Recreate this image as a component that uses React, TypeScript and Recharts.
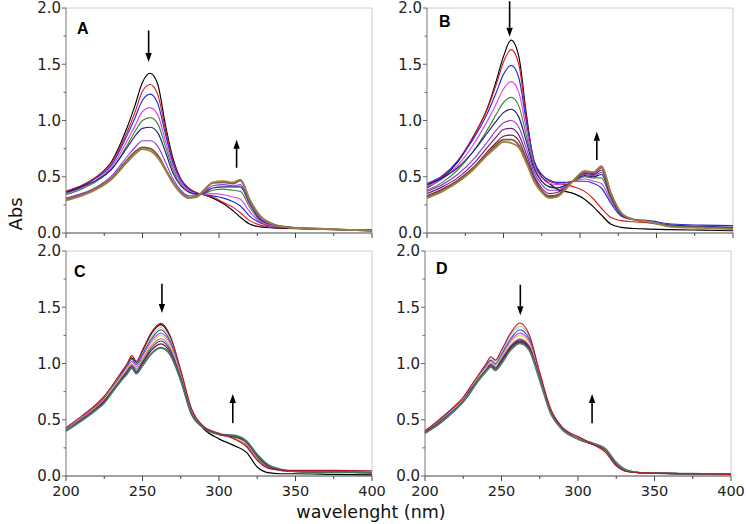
import React from "react";
import { LineChart, Line, XAxis, YAxis, ReferenceLine } from "recharts";

// wavelength grids (nm)
const WL_AB = [200, 210, 220, 230, 240, 245, 250, 255, 260, 265, 270, 275, 280, 285, 290, 296, 303, 309, 314, 320, 327, 335, 345, 360, 380, 400];
const WL_CD = [200, 210, 220, 225, 230, 235, 240, 243, 246, 250, 256, 262, 268, 275, 282, 290, 300, 310, 318, 325, 332, 340, 350, 375, 400];

const X_TICKS = [200, 225, 250, 275, 300, 325, 350, 375, 400];
const Y_TICKS = [0, 0.25, 0.5, 0.75, 1, 1.25, 1.5, 1.75, 2];

// panel A
const A_BLACK = [0.37, 0.42, 0.5, 0.64, 0.94, 1.13, 1.34, 1.42, 1.32, 0.96, 0.66, 0.48, 0.4, 0.36, 0.34, 0.31, 0.26, 0.2, 0.14, 0.08, 0.055, 0.045, 0.04, 0.035, 0.03, 0.02];
const A_RED = [0.37, 0.42, 0.5, 0.63, 0.9, 1.07, 1.26, 1.32, 1.23, 0.92, 0.64, 0.48, 0.4, 0.355, 0.34, 0.32, 0.27, 0.23, 0.18, 0.11, 0.07, 0.05, 0.045, 0.035, 0.03, 0.02];
const A_BLUE = [0.36, 0.41, 0.49, 0.61, 0.87, 1.02, 1.18, 1.235, 1.15, 0.88, 0.62, 0.47, 0.39, 0.355, 0.34, 0.33, 0.31, 0.28, 0.24, 0.15, 0.09, 0.06, 0.05, 0.04, 0.03, 0.025];
const A_MAGENTA = [0.35, 0.4, 0.47, 0.59, 0.82, 0.95, 1.08, 1.115, 1.05, 0.82, 0.59, 0.45, 0.38, 0.35, 0.345, 0.35, 0.34, 0.32, 0.3, 0.19, 0.1, 0.065, 0.05, 0.04, 0.03, 0.025];
const A_GREEN = [0.34, 0.39, 0.46, 0.57, 0.78, 0.9, 1.0, 1.025, 0.97, 0.77, 0.56, 0.43, 0.37, 0.345, 0.35, 0.38, 0.39, 0.38, 0.37, 0.23, 0.11, 0.07, 0.05, 0.04, 0.03, 0.025];
const A_NAVY = [0.36, 0.41, 0.47, 0.57, 0.76, 0.86, 0.93, 0.94, 0.89, 0.72, 0.53, 0.42, 0.365, 0.345, 0.355, 0.4, 0.41, 0.41, 0.41, 0.26, 0.12, 0.075, 0.055, 0.04, 0.03, 0.025];
const A_VIOLET = [0.31, 0.35, 0.41, 0.51, 0.68, 0.76, 0.82, 0.82, 0.77, 0.63, 0.48, 0.38, 0.33, 0.33, 0.36, 0.42, 0.43, 0.42, 0.43, 0.27, 0.13, 0.075, 0.05, 0.04, 0.03, 0.025];
const A_BROWN = [0.3, 0.34, 0.4, 0.49, 0.65, 0.72, 0.76, 0.75, 0.69, 0.57, 0.45, 0.36, 0.315, 0.32, 0.37, 0.445, 0.45, 0.44, 0.465, 0.29, 0.145, 0.08, 0.05, 0.04, 0.03, 0.02];
const A_OLIVE = [0.29, 0.33, 0.39, 0.48, 0.63, 0.7, 0.745, 0.73, 0.67, 0.56, 0.44, 0.355, 0.31, 0.32, 0.38, 0.45, 0.46, 0.45, 0.475, 0.3, 0.15, 0.08, 0.05, 0.04, 0.03, 0.02];

// panel B
const B_BLACK = [0.4, 0.49, 0.63, 0.85, 1.13, 1.34, 1.57, 1.715, 1.57, 1.05, 0.62, 0.5, 0.44, 0.39, 0.37, 0.35, 0.3, 0.23, 0.16, 0.08, 0.05, 0.04, 0.035, 0.03, 0.025, 0.02];
const B_RED = [0.42, 0.5, 0.64, 0.85, 1.12, 1.31, 1.52, 1.63, 1.5, 1.02, 0.64, 0.52, 0.46, 0.44, 0.43, 0.41, 0.37, 0.3, 0.22, 0.14, 0.11, 0.1, 0.09, 0.06, 0.05, 0.045];
const B_BLUE = [0.44, 0.51, 0.64, 0.83, 1.08, 1.24, 1.41, 1.49, 1.38, 0.98, 0.64, 0.52, 0.47, 0.45, 0.45, 0.46, 0.46, 0.44, 0.4, 0.27, 0.15, 0.12, 0.11, 0.08, 0.07, 0.065];
const B_MAGENTA = [0.41, 0.48, 0.6, 0.78, 1.01, 1.14, 1.28, 1.345, 1.25, 0.92, 0.61, 0.49, 0.44, 0.43, 0.44, 0.46, 0.48, 0.46, 0.44, 0.29, 0.16, 0.12, 0.1, 0.06, 0.05, 0.045];
const B_GREEN = [0.38, 0.45, 0.56, 0.72, 0.93, 1.05, 1.16, 1.205, 1.13, 0.86, 0.59, 0.46, 0.41, 0.4, 0.42, 0.46, 0.5, 0.49, 0.49, 0.31, 0.16, 0.12, 0.1, 0.06, 0.05, 0.04];
const B_NAVY = [0.43, 0.49, 0.58, 0.72, 0.9, 0.99, 1.07, 1.1, 1.03, 0.81, 0.57, 0.46, 0.41, 0.4, 0.42, 0.47, 0.51, 0.5, 0.52, 0.33, 0.16, 0.12, 0.1, 0.07, 0.06, 0.05];
const B_VIOLET = [0.37, 0.43, 0.52, 0.65, 0.82, 0.91, 0.98, 1.0, 0.94, 0.75, 0.54, 0.43, 0.38, 0.38, 0.41, 0.47, 0.52, 0.51, 0.54, 0.34, 0.165, 0.12, 0.1, 0.06, 0.05, 0.04];
const B_PURPLE = [0.35, 0.41, 0.49, 0.61, 0.77, 0.85, 0.92, 0.93, 0.87, 0.7, 0.51, 0.4, 0.35, 0.36, 0.4, 0.47, 0.53, 0.52, 0.56, 0.35, 0.17, 0.12, 0.1, 0.06, 0.05, 0.04];
const B_MAROON = [0.33, 0.39, 0.47, 0.58, 0.73, 0.8, 0.86, 0.87, 0.82, 0.66, 0.49, 0.38, 0.33, 0.34, 0.39, 0.47, 0.54, 0.53, 0.58, 0.35, 0.17, 0.12, 0.1, 0.06, 0.05, 0.04];
const B_BROWN = [0.32, 0.38, 0.46, 0.57, 0.71, 0.78, 0.83, 0.83, 0.78, 0.64, 0.47, 0.37, 0.32, 0.33, 0.39, 0.47, 0.55, 0.54, 0.59, 0.36, 0.175, 0.12, 0.1, 0.06, 0.05, 0.04];
const B_OLIVE = [0.31, 0.37, 0.45, 0.56, 0.7, 0.76, 0.81, 0.8, 0.76, 0.62, 0.46, 0.36, 0.31, 0.32, 0.38, 0.47, 0.545, 0.54, 0.595, 0.36, 0.18, 0.12, 0.1, 0.055, 0.045, 0.035];

// panel C
const C_RED = [0.43, 0.53, 0.64, 0.71, 0.8, 0.9, 1.0, 1.07, 1.02, 1.12, 1.28, 1.357, 1.25, 0.94, 0.6, 0.44, 0.38, 0.33, 0.26, 0.14, 0.07, 0.055, 0.05, 0.05, 0.045];
const C_BLACK = [0.42, 0.52, 0.63, 0.7, 0.79, 0.89, 0.99, 1.05, 1.01, 1.11, 1.27, 1.345, 1.24, 0.93, 0.58, 0.42, 0.33, 0.27, 0.21, 0.08, 0.03, 0.02, 0.02, 0.015, 0.01];
const C_LGREEN = [0.42, 0.52, 0.63, 0.7, 0.79, 0.89, 0.99, 1.04, 1.0, 1.09, 1.24, 1.32, 1.22, 0.92, 0.58, 0.43, 0.37, 0.33, 0.27, 0.15, 0.07, 0.05, 0.04, 0.035, 0.03];
const C_BLUE = [0.42, 0.51, 0.62, 0.69, 0.78, 0.88, 0.98, 1.04, 0.99, 1.08, 1.22, 1.3, 1.2, 0.91, 0.58, 0.43, 0.37, 0.34, 0.28, 0.16, 0.08, 0.05, 0.04, 0.035, 0.03];
const C_MAGENTA = [0.41, 0.51, 0.62, 0.68, 0.77, 0.87, 0.96, 1.02, 0.97, 1.06, 1.2, 1.27, 1.18, 0.9, 0.57, 0.43, 0.37, 0.34, 0.28, 0.16, 0.08, 0.05, 0.04, 0.035, 0.03];
const C_YELLOW = [0.41, 0.5, 0.61, 0.68, 0.77, 0.86, 0.95, 1.0, 0.96, 1.04, 1.18, 1.25, 1.16, 0.89, 0.57, 0.43, 0.37, 0.34, 0.29, 0.17, 0.09, 0.055, 0.045, 0.04, 0.035];
const C_GRAY = [0.41, 0.5, 0.61, 0.67, 0.76, 0.85, 0.94, 0.99, 0.95, 1.03, 1.16, 1.22, 1.14, 0.88, 0.56, 0.43, 0.37, 0.35, 0.3, 0.17, 0.09, 0.055, 0.04, 0.035, 0.03];
const C_PURPLE = [0.4, 0.5, 0.6, 0.67, 0.75, 0.84, 0.93, 0.98, 0.93, 1.01, 1.14, 1.2, 1.12, 0.87, 0.56, 0.43, 0.37, 0.35, 0.3, 0.18, 0.09, 0.055, 0.04, 0.035, 0.03];
const C_MAROON = [0.4, 0.49, 0.6, 0.66, 0.75, 0.84, 0.92, 0.97, 0.92, 1.0, 1.12, 1.175, 1.1, 0.86, 0.55, 0.43, 0.37, 0.35, 0.3, 0.18, 0.09, 0.055, 0.04, 0.035, 0.03];
const C_TEAL = [0.4, 0.49, 0.59, 0.65, 0.74, 0.83, 0.91, 0.96, 0.91, 0.98, 1.09, 1.14, 1.08, 0.85, 0.55, 0.43, 0.37, 0.36, 0.31, 0.19, 0.1, 0.06, 0.04, 0.035, 0.03];

// panel D
const D_RED = [0.4, 0.51, 0.63, 0.7, 0.8, 0.9, 1.0, 1.06, 1.03, 1.12, 1.27, 1.36, 1.26, 0.92, 0.6, 0.43, 0.35, 0.28, 0.21, 0.09, 0.04, 0.03, 0.025, 0.02, 0.015];
const D_LGREEN = [0.4, 0.5, 0.62, 0.69, 0.79, 0.89, 0.99, 1.05, 1.02, 1.1, 1.25, 1.33, 1.24, 0.91, 0.6, 0.43, 0.35, 0.28, 0.22, 0.09, 0.04, 0.03, 0.025, 0.02, 0.015];
const D_BLUE = [0.4, 0.5, 0.62, 0.69, 0.79, 0.89, 0.98, 1.03, 1.0, 1.08, 1.22, 1.3, 1.22, 0.9, 0.59, 0.42, 0.34, 0.28, 0.22, 0.1, 0.04, 0.03, 0.025, 0.02, 0.015];
const D_MAGENTA = [0.39, 0.49, 0.61, 0.68, 0.78, 0.88, 0.97, 1.02, 0.99, 1.06, 1.2, 1.27, 1.2, 0.89, 0.59, 0.42, 0.34, 0.28, 0.22, 0.1, 0.04, 0.03, 0.025, 0.02, 0.015];
const D_YELLOW = [0.4, 0.49, 0.61, 0.68, 0.78, 0.88, 0.96, 1.01, 0.98, 1.05, 1.18, 1.25, 1.18, 0.88, 0.58, 0.42, 0.34, 0.28, 0.22, 0.1, 0.045, 0.03, 0.025, 0.02, 0.015];
const D_GRAY = [0.39, 0.49, 0.6, 0.67, 0.77, 0.87, 0.95, 1.0, 0.97, 1.04, 1.16, 1.22, 1.16, 0.87, 0.58, 0.42, 0.33, 0.28, 0.23, 0.1, 0.045, 0.03, 0.025, 0.02, 0.015];
const D_PURPLE = [0.39, 0.48, 0.6, 0.67, 0.77, 0.86, 0.94, 0.99, 0.96, 1.03, 1.15, 1.21, 1.15, 0.87, 0.57, 0.42, 0.33, 0.28, 0.23, 0.11, 0.045, 0.03, 0.025, 0.02, 0.015];
const D_MAROON = [0.38, 0.48, 0.59, 0.66, 0.76, 0.86, 0.94, 0.98, 0.95, 1.02, 1.14, 1.2, 1.14, 0.86, 0.57, 0.41, 0.33, 0.28, 0.23, 0.11, 0.045, 0.03, 0.025, 0.02, 0.015];
const D_BLACK = [0.38, 0.48, 0.59, 0.66, 0.76, 0.85, 0.93, 0.97, 0.94, 1.01, 1.13, 1.19, 1.13, 0.86, 0.57, 0.41, 0.33, 0.28, 0.23, 0.11, 0.05, 0.03, 0.025, 0.02, 0.015];
const D_TEAL = [0.38, 0.47, 0.59, 0.66, 0.75, 0.85, 0.93, 0.97, 0.94, 1.0, 1.12, 1.18, 1.12, 0.85, 0.56, 0.41, 0.33, 0.29, 0.24, 0.12, 0.05, 0.03, 0.025, 0.02, 0.015];

type Series = { name: string; color: string; values: number[]; thick?: boolean };
type Arrow = { x: number; from: number; to: number };
type Panel = {
  label: string;
  left: number;
  top: number;
  wl: number[];
  series: Series[];
  arrows: Arrow[];
  xLabels: boolean;
};

const FONT = "'DejaVu Sans', Verdana, sans-serif";
const PLOT_W = 306;
const PLOT_H = 225;
const Y_AXIS_W = 60;
const M_TOP = 10;
const M_RIGHT = 20;

const PANELS: Panel[] = [
  {
    label: "A", left: 66, top: 8, wl: WL_AB, xLabels: false,
    series: [
      { name: "a1", color: "#000000", values: A_BLACK },
      { name: "a2", color: "#e0161e", values: A_RED },
      { name: "a3", color: "#2030d8", values: A_BLUE },
      { name: "a4", color: "#e040e0", values: A_MAGENTA },
      { name: "a5", color: "#3f8a3a", values: A_GREEN },
      { name: "a6", color: "#1c1c80", values: A_NAVY },
      { name: "a7", color: "#9038e0", values: A_VIOLET },
      { name: "a8", color: "#7a5a32", values: A_BROWN, thick: true },
      { name: "a9", color: "#9a8048", values: A_OLIVE, thick: true },
    ],
    arrows: [{ x: 254, from: 1.8, to: 1.52 }, { x: 311.5, from: 0.58, to: 0.83 }],
  },
  {
    label: "B", left: 427, top: 8, wl: WL_AB, xLabels: false,
    series: [
      { name: "b1", color: "#000000", values: B_BLACK },
      { name: "b2", color: "#e0161e", values: B_RED },
      { name: "b3", color: "#2030d8", values: B_BLUE },
      { name: "b4", color: "#e040e0", values: B_MAGENTA },
      { name: "b5", color: "#3f8a3a", values: B_GREEN },
      { name: "b6", color: "#1c1c80", values: B_NAVY },
      { name: "b7", color: "#9038e0", values: B_VIOLET },
      { name: "b8", color: "#6a2080", values: B_PURPLE },
      { name: "b9", color: "#8a1a3a", values: B_MAROON },
      { name: "b10", color: "#7a5a32", values: B_BROWN, thick: true },
      { name: "b11", color: "#9a8048", values: B_OLIVE, thick: true },
    ],
    arrows: [{ x: 254, from: 2.06, to: 1.745 }, { x: 311, from: 0.65, to: 0.9 }],
  },
  {
    label: "C", left: 66, top: 251, wl: WL_CD, xLabels: true,
    series: [
      { name: "c1", color: "#000000", values: C_BLACK },
      { name: "c2", color: "#a8d878", values: C_LGREEN },
      { name: "c3", color: "#2a48d0", values: C_BLUE },
      { name: "c4", color: "#d050d0", values: C_MAGENTA },
      { name: "c5", color: "#e8d868", values: C_YELLOW },
      { name: "c6", color: "#8a8a72", values: C_GRAY },
      { name: "c7", color: "#6a1a8a", values: C_PURPLE },
      { name: "c8", color: "#701828", values: C_MAROON },
      { name: "c9", color: "#3a7868", values: C_TEAL, thick: true },
      { name: "c10", color: "#b81420", values: C_RED },
    ],
    arrows: [{ x: 262.7, from: 1.71, to: 1.45 }, { x: 309, from: 0.47, to: 0.73 }],
  },
  {
    label: "D", left: 425, top: 251, wl: WL_CD, xLabels: true,
    series: [
      { name: "d1", color: "#000000", values: D_BLACK },
      { name: "d2", color: "#a8d8a0", values: D_LGREEN },
      { name: "d3", color: "#2a48d0", values: D_BLUE },
      { name: "d4", color: "#d050d0", values: D_MAGENTA },
      { name: "d5", color: "#e8d868", values: D_YELLOW },
      { name: "d6", color: "#8a8a72", values: D_GRAY },
      { name: "d7", color: "#6a1a8a", values: D_PURPLE },
      { name: "d8", color: "#701828", values: D_MAROON },
      { name: "d9", color: "#4a8078", values: D_TEAL, thick: true },
      { name: "d10", color: "#b81420", values: D_RED },
    ],
    arrows: [{ x: 262.3, from: 1.7, to: 1.43 }, { x: 309.2, from: 0.47, to: 0.73 }],
  },
];

function toRows(wl: number[], series: Series[]) {
  return wl.map((w, i) => {
    const row: Record<string, number> = { wl: w };
    series.forEach((s) => {
      row[s.name] = s.values[i];
    });
    return row;
  });
}

function makeXTick(showLabel: boolean) {
  return (props: any) => {
    const { x, y, payload } = props;
    const major = payload.value % 50 === 0;
    return (
      <g>
        <line x1={x} x2={x} y1={y} y2={y + (major ? 5 : 3)} stroke="#444" />
        {showLabel && major && (
          <text x={x} y={y + 20} textAnchor="middle" fontFamily={FONT} fontSize={14.5} fill="#222">
            {payload.value}
          </text>
        )}
      </g>
    );
  };
}

function YTick(props: any) {
  const { x, y, payload } = props;
  const major = Math.abs(payload.value * 2 - Math.round(payload.value * 2)) < 1e-6;
  return (
    <g>
      <line x1={x - (major ? 4 : 2.5)} x2={x} y1={y} y2={y} stroke="#666" />
      {major && (
        <text x={x - 5} y={y} dy="0.36em" textAnchor="end" fontFamily={FONT} fontSize={15} fill="#222">
          {payload.value.toFixed(1)}
        </text>
      )}
    </g>
  );
}

function arrowShape(props: any) {
  const { x1, y1, x2, y2 } = props;
  const dir = y2 > y1 ? 1 : -1;
  const head = 9;
  const half = 3.2;
  return (
    <g>
      <line x1={x1} y1={y1} x2={x2} y2={y2 - dir * head} stroke="#000" strokeWidth={1.6} />
      <polygon
        points={`${x2},${y2} ${x2 - half},${y2 - dir * head} ${x2 + half},${y2 - dir * head}`}
        fill="#000"
      />
    </g>
  );
}

function SpectraPanel({ panel }: { panel: Panel }) {
  const xAxisH = panel.xLabels ? 30 : 14;
  const width = Y_AXIS_W + PLOT_W + M_RIGHT;
  const height = M_TOP + PLOT_H + xAxisH;
  return (
    <div style={{ position: "absolute", left: panel.left - Y_AXIS_W, top: panel.top - M_TOP }}>
      <LineChart
        width={width}
        height={height}
        data={toRows(panel.wl, panel.series)}
        margin={{ top: M_TOP, right: M_RIGHT, bottom: 0, left: 0 }}
      >
        <XAxis
          dataKey="wl"
          type="number"
          domain={[200, 400]}
          ticks={X_TICKS}
          interval={0}
          height={xAxisH}
          tickSize={0}
          tickMargin={0}
          tickLine={false}
          tick={makeXTick(panel.xLabels)}
          axisLine={{ stroke: "#444" }}
        />
        <YAxis
          type="number"
          domain={[0, 2]}
          ticks={Y_TICKS}
          interval={0}
          width={Y_AXIS_W}
          tickSize={0}
          tickMargin={0}
          tickLine={false}
          tick={YTick}
          axisLine={{ stroke: "#777" }}
        />
        <ReferenceLine y={2} stroke="#cccccc" />
        <ReferenceLine x={400} stroke="#cccccc" />
        {panel.series.map((s) => (
          <Line
            key={s.name}
            dataKey={s.name}
            type="monotone"
            stroke={s.color}
            strokeWidth={s.thick ? 1.8 : 1.15}
            dot={false}
            isAnimationActive={false}
          />
        ))}
        {panel.arrows.map((a, i) => (
          <ReferenceLine
            key={i}
            segment={[{ x: a.x, y: a.from }, { x: a.x, y: a.to }]}
            ifOverflow="visible"
            shape={arrowShape}
          />
        ))}
      </LineChart>
    </div>
  );
}

const LETTERS = [
  { t: "A", x: 77, y: 34 },
  { t: "B", x: 439, y: 27 },
  { t: "C", x: 74, y: 277 },
  { t: "D", x: 436, y: 274 },
];

export default function App() {
  return (
    <div style={{ position: "absolute", left: 0, top: 0, width: 746, height: 524, background: "#fff", overflow: "hidden" }}>
      {PANELS.map((p) => (
        <SpectraPanel key={p.label} panel={p} />
      ))}
      <svg width={746} height={524} style={{ position: "absolute", left: 0, top: 0, pointerEvents: "none" }}>
        {LETTERS.map((l) => (
          <text key={l.t} x={l.x} y={l.y} fontFamily="'Liberation Sans', Arial, sans-serif" fontWeight="bold" fontSize={16} fill="#000">
            {l.t}
          </text>
        ))}
        <text
          x={22}
          y={214}
          transform="rotate(-90 22 214)"
          textAnchor="middle"
          fontFamily={FONT}
          fontSize={18}
          fill="#111"
        >
          Abs
        </text>
        <text x={371} y={518} textAnchor="middle" fontFamily={FONT} fontSize={17.5} fill="#111">
          wavelenght (nm)
        </text>
      </svg>
    </div>
  );
}
